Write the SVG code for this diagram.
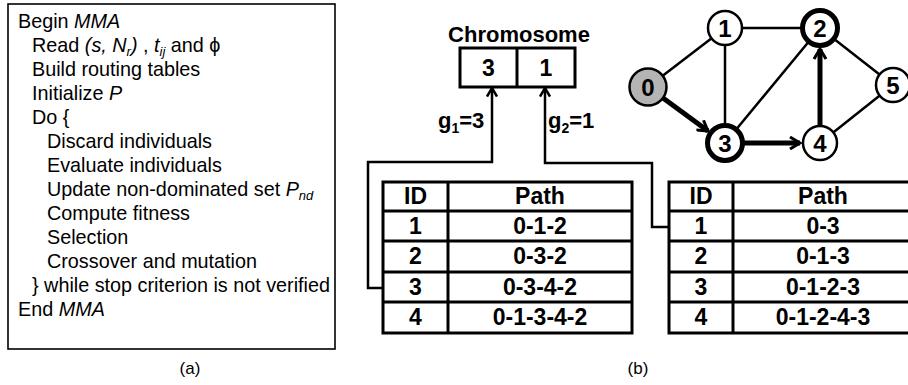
<svg xmlns="http://www.w3.org/2000/svg" width="908" height="385" viewBox="0 0 908 385">
<defs>
<style>
text{font-family:"Liberation Sans",Arial,sans-serif;fill:#000}
.alg{font-size:19.8px}
.i{font-style:italic}
.sub{font-size:13px}
.b{font-weight:bold}
.cap{font-size:17px;text-anchor:middle}
.tb{font-size:23px;font-weight:bold;text-anchor:middle}
.nl{font-size:24px;font-weight:bold;text-anchor:middle}
.frame{fill:#fff;stroke:#000;stroke-width:1.6}
.tbl{fill:#fff;stroke:#000;stroke-width:3}
.tl{stroke:#000;stroke-width:3}
.conn{fill:none;stroke:#000;stroke-width:2.5}
.edge{stroke:#000;stroke-width:2.5}
.tedge{stroke:#000;stroke-width:5}
.node{fill:#fff;stroke:#000;stroke-width:2.5}
.thick{stroke-width:5}
</style>
<marker id="chev" viewBox="0 0 14 14" refX="12" refY="7" markerWidth="14" markerHeight="14" markerUnits="userSpaceOnUse" orient="auto">
<path d="M2,1 L12,7 L2,13" fill="none" stroke="#000" stroke-width="3"/>
</marker>
<marker id="chevs" viewBox="0 0 12 12" refX="10.5" refY="6" markerWidth="12" markerHeight="12" markerUnits="userSpaceOnUse" orient="auto">
<path d="M2,1 L10.5,6 L2,11" fill="none" stroke="#000" stroke-width="2.5"/>
</marker>
</defs>
<rect width="908" height="385" fill="#fff"/>

<g id="algorithm">
<rect class="frame" x="8" y="4" width="327" height="345"/>
<text class="alg" x="18" y="28">Begin <tspan class="i">MMA</tspan></text>
<text class="alg" x="32" y="52">Read <tspan class="i">(s, N</tspan><tspan class="i sub" dy="4">r</tspan><tspan class="i" dy="-4">)</tspan> , <tspan class="i">t</tspan><tspan class="i sub" dy="4">ij</tspan><tspan dy="-4"> and ϕ</tspan></text>
<text class="alg" x="32" y="76">Build routing tables</text>
<text class="alg" x="32" y="100">Initialize <tspan class="i">P</tspan></text>
<text class="alg" x="32" y="124">Do {</text>
<text class="alg" x="47" y="148">Discard individuals</text>
<text class="alg" x="47" y="172">Evaluate individuals</text>
<text class="alg" x="47" y="196">Update non-dominated set <tspan class="i">P</tspan><tspan class="i sub" dy="4">nd</tspan></text>
<text class="alg" x="47" y="220">Compute fitness</text>
<text class="alg" x="47" y="244">Selection</text>
<text class="alg" x="47" y="268">Crossover and mutation</text>
<text class="alg" x="32" y="292">} while stop criterion is not verified</text>
<text class="alg" x="18" y="316">End <tspan class="i">MMA</tspan></text>
</g>
<text class="cap" x="190" y="374">(a)</text>
<text class="cap" x="638" y="374">(b)</text>

<g id="chromosome">
<text class="b" x="519" y="42" font-size="22" text-anchor="middle">Chromosome</text>
<rect class="tbl" x="460" y="48" width="115" height="39"/>
<line class="tl" x1="517" y1="48" x2="517" y2="87"/>
<text class="tb" x="488.5" y="76">3</text>
<text class="tb" x="546" y="76">1</text>
</g>

<g id="table-left">
<rect class="tbl" x="383" y="182" width="249" height="151"/>
<line class="tl" x1="448" y1="182" x2="448" y2="333"/>
<line class="tl" x1="383" y1="211" x2="632" y2="211"/>
<line class="tl" x1="383" y1="241" x2="632" y2="241"/>
<line class="tl" x1="383" y1="272" x2="632" y2="272"/>
<line class="tl" x1="383" y1="302" x2="632" y2="302"/>
<text class="tb" x="415.5" y="204">ID</text><text class="tb" x="540" y="204">Path</text>
<text class="tb" x="415.5" y="234">1</text><text class="tb" x="540" y="234">0-1-2</text>
<text class="tb" x="415.5" y="264">2</text><text class="tb" x="540" y="264">0-3-2</text>
<text class="tb" x="415.5" y="295">3</text><text class="tb" x="540" y="295">0-3-4-2</text>
<text class="tb" x="415.5" y="325">4</text><text class="tb" x="540" y="325">0-1-3-4-2</text>
</g>

<g id="table-right">
<rect class="tbl" x="669" y="182" width="249" height="151"/>
<line class="tl" x1="733" y1="182" x2="733" y2="333"/>
<line class="tl" x1="669" y1="211" x2="918" y2="211"/>
<line class="tl" x1="669" y1="241" x2="918" y2="241"/>
<line class="tl" x1="669" y1="272" x2="918" y2="272"/>
<line class="tl" x1="669" y1="302" x2="918" y2="302"/>
<text class="tb" x="701" y="204">ID</text><text class="tb" x="823" y="204">Path</text>
<text class="tb" x="701" y="234">1</text><text class="tb" x="823" y="234">0-3</text>
<text class="tb" x="701" y="264">2</text><text class="tb" x="823" y="264">0-1-3</text>
<text class="tb" x="701" y="295">3</text><text class="tb" x="823" y="295">0-1-2-3</text>
<text class="tb" x="701" y="325">4</text><text class="tb" x="823" y="325">0-1-2-4-3</text>
</g>

<g id="connectors">
<path class="conn" d="M383,288 H368 V162 H492 V88" marker-end="url(#chevs)"/>
<path class="conn" d="M669,227 H652 V163 H545 V88" marker-end="url(#chevs)"/>
<text class="b" x="438" y="128" font-size="22">g<tspan font-size="14" dy="5">1</tspan><tspan dy="-5">=3</tspan></text>
<text class="b" x="548" y="128" font-size="22">g<tspan font-size="14" dy="5">2</tspan><tspan dy="-5">=1</tspan></text>
<line class="edge" x1="648" y1="87" x2="725" y2="28"/>
<line class="edge" x1="725" y1="28" x2="820" y2="28"/>
<line class="edge" x1="725" y1="28" x2="725" y2="143"/>
<line class="edge" x1="725" y1="143" x2="820" y2="28"/>
<line class="edge" x1="820" y1="28" x2="893" y2="85"/>
<line class="edge" x1="820" y1="143" x2="893" y2="85"/>
<line class="tedge" x1="663" y1="98" x2="708" y2="131" marker-end="url(#chev)"/>
<line class="tedge" x1="743" y1="143" x2="800" y2="143" marker-end="url(#chev)"/>
<line class="tedge" x1="820" y1="125" x2="820" y2="49" marker-end="url(#chev)"/>
</g>

<g id="n0"><circle class="node" cx="648" cy="87" r="18.5" style="fill:#b4b4b4"/><text class="nl" x="648" y="96">0</text></g>
<g id="n1"><circle class="node" cx="725" cy="28" r="17"/><text class="nl" x="725" y="37">1</text></g>
<g id="n2"><circle class="node thick" cx="820" cy="28" r="17.5"/><text class="nl" x="820" y="37">2</text></g>
<g id="n3"><circle class="node thick" cx="725" cy="143" r="17.5"/><text class="nl" x="725" y="152">3</text></g>
<g id="n4"><circle class="node" cx="820" cy="143" r="17"/><text class="nl" x="820" y="152">4</text></g>
<g id="n5"><circle class="node" cx="893" cy="85" r="17"/><text class="nl" x="893" y="94">5</text></g>
</svg>
